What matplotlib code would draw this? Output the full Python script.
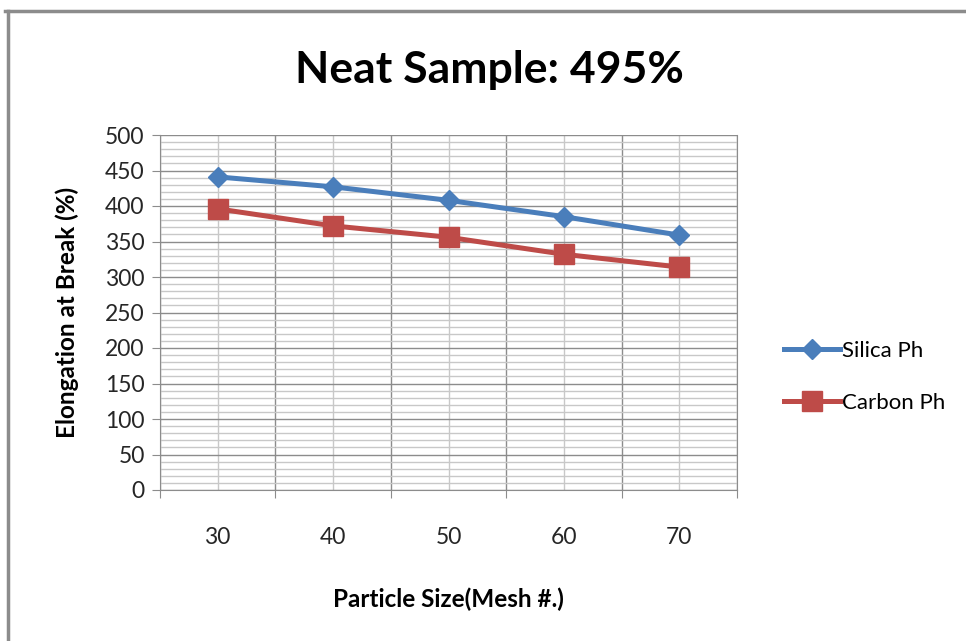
import matplotlib
matplotlib.use("Agg")
import matplotlib.pyplot as plt
from matplotlib.lines import Line2D
from matplotlib.ticker import MultipleLocator

# Data
mesh_sizes = ["30", "40", "50", "60", "70"]
silica_ph = [441, 427, 408, 385, 359]
carbon_ph = [396, 372, 356, 332, 314]

plt.rcParams['font.family'] = ['Lato', 'DejaVu Sans']

fig = plt.figure(figsize=(9.66, 6.41), dpi=100)
ax = fig.add_axes([160 / 966, 1 - 490 / 641, (737 - 160) / 966, (490 - 135) / 641])

pos = list(range(len(mesh_sizes)))
ax.plot(pos, silica_ph, color='#4A7EBB', lw=3.6, marker='D', ms=10.5,
        label='Silica Ph', zorder=3)
ax.plot(pos, carbon_ph, color='#BE4B48', lw=3.6, marker='s', ms=14,
        label='Carbon Ph', zorder=3)

ax.set_xlim(-0.5, len(mesh_sizes) - 0.5)
ax.set_ylim(0, 500)

# category boundaries (major) and centers (minor, labelled)
ax.set_xticks([i - 0.5 for i in range(len(mesh_sizes) + 1)])
ax.set_xticklabels([])
ax.set_xticks(pos, minor=True)
ax.set_xticklabels(mesh_sizes, minor=True)
ax.yaxis.set_major_locator(MultipleLocator(50))
ax.yaxis.set_minor_locator(MultipleLocator(10))

ax.grid(which='major', color='#8C8C8C', lw=1.0, zorder=0)
ax.grid(which='minor', color='#C8C8C8', lw=1.0, zorder=0)
ax.set_axisbelow(True)

ax.tick_params(axis='x', which='major', length=6, color='#8C8C8C', direction='out')
ax.tick_params(axis='x', which='minor', length=0, pad=27, labelsize=16.5, labelcolor='#262626')
ax.tick_params(axis='y', which='major', length=6, color='#8C8C8C', direction='out',
               pad=5, labelsize=16.5, labelcolor='#262626')
ax.tick_params(axis='y', which='minor', length=0)

for side in ['left', 'bottom', 'right']:
    ax.spines[side].set_color('#8C8C8C')
ax.spines['top'].set_visible(False)

ax.set_ylabel('Elongation at Break (%)', fontsize=17.5, fontweight='bold', labelpad=19)
ax.set_xlabel('Particle Size(Mesh #.)', fontsize=17.5, fontweight='bold', labelpad=28)

fig.text(0.507, 0.891, 'Neat Sample: 495%', ha='center', va='center',
         fontsize=32, fontweight='bold')

fig.legend(loc='center left', bbox_to_anchor=(764 / 966, 1 - 377 / 641),
           frameon=False, fontsize=16, handlelength=2.5, labelspacing=1.45,
           handletextpad=0.1)

# chart border (top and left edges visible)
fig.add_artist(Line2D([5 / 966, 1], [1 - 11 / 641, 1 - 11 / 641], color='#8C8C8C', lw=2.5))
fig.add_artist(Line2D([8 / 966, 8 / 966], [0, 1 - 11 / 641], color='#8C8C8C', lw=2.5))

fig.savefig('out.png', dpi=100)
